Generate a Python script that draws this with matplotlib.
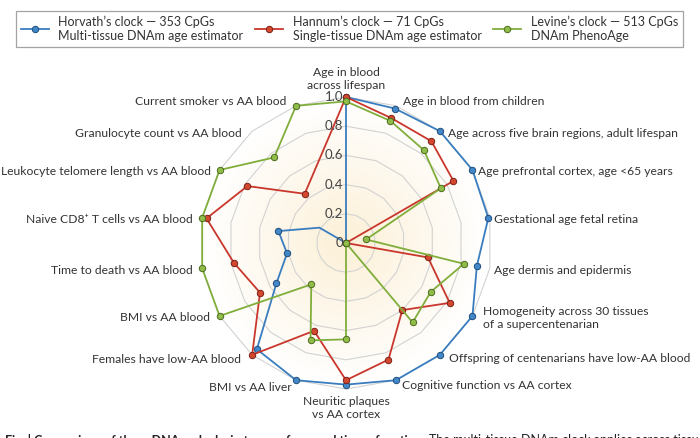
import numpy as np
import matplotlib
matplotlib.use("Agg")
import matplotlib.pyplot as plt
from matplotlib.lines import Line2D
from matplotlib.colors import LinearSegmentedColormap
import matplotlib.transforms as mtransforms

plt.rcParams['font.family'] = ['Lato', 'DejaVu Sans']

categories = [
    "Age in blood\nacross lifespan",
    "Age in blood from children",
    "Age across five brain regions, adult lifespan",
    "Age prefrontal cortex, age <65 years",
    "Gestational age fetal retina",
    "Age dermis and epidermis",
    "Homogeneity across 30 tissues\nof a supercentenarian",
    "Offspring of centenarians have low-AA blood",
    "Cognitive function vs AA cortex",
    "Neuritic plaques\nvs AA cortex",
    "BMI vs AA liver",
    "Females have low-AA blood",
    "BMI vs AA blood",
    "Time to death vs AA blood",
    "Naive CD8\u207a T cells vs AA blood",
    "Leukocyte telomere length vs AA blood",
    "Granulocyte count vs AA blood",
    "Current smoker vs AA blood",
]

horvath = [1.0, 0.98, 1.0, 1.0, 0.99, 0.91, 1.0, 1.0, 1.0, 0.97, 1.0, 0.95, 0.55, 0.41, 0.47, 0.21, 0.0, 0.0]
hannum = [1.0, 0.91, 0.91, 0.85, 0.0, 0.57, 0.82, 0.60, 0.85, 0.94, 0.64, 1.0, 0.68, 0.78, 0.97, 0.78, 0.44, None]
levine = [0.97, 0.89, 0.83, 0.75, 0.14, 0.82, 0.67, 0.71, 0.0, 0.66, 0.71, 0.37, 1.0, 1.0, 1.0, 1.0, 0.765, 1.0]

series_labels = [
    "Horvath\u2019s clock \u2014 353 CpGs\nMulti-tissue DNAm age estimator",
    "Hannum\u2019s clock \u2014 71 CpGs\nSingle-tissue DNAm age estimator",
    "Levine\u2019s clock \u2014 513 CpGs\nDNAm PhenoAge",
]
tick_values = [0, 0.2, 0.4, 0.6, 0.8, 1.0]
tick_labels = ["0", "0.2", "0.4", "0.6", "0.8", "1.0"]

# label nudges in pixels (style only): (right, down)
label_nudge = [(0, -2), (5, 3), (3, 8), (-1, 5), (-3, 3), (-3, 1), (4, -2), (4, -2), (4, -2),
               (0, 0), (-2, 0), (-6, -1), (-3, -2), (-2, 1), (-2, 3), (-2, 5), (-6, 8), (-7, 3)]

line_colors = ['#3a7dbf', '#c9372c', '#80ae3b']
face_colors = ['#4287c8', '#d4472f', '#8fbd48']
edge_colors = ['#1f4d7c', '#7a2016', '#4c6a1e']

fig = plt.figure(figsize=(7, 4.38), dpi=100)
cx, cy, R = 346, 243, 146
ax = fig.add_axes([(cx - R) / 700, (438 - cy - R) / 438, 2 * R / 700, 2 * R / 438], projection='polar')
ax.set_theta_zero_location('N')
ax.set_theta_direction(-1)
ax.set_ylim(0, 1.0)
ax.grid(False)
ax.spines['polar'].set_visible(False)
ax.set_xticks([])
ax.set_yticks([])
ax.patch.set_alpha(0)

n = len(categories)
angles = np.arange(n) * 2 * np.pi / n

# background radial gradient
cmap = LinearSegmentedColormap.from_list('bg', [(0, '#fcf0d7'), (0.45, '#fdf6e9'), (1.0, '#ffffff')])
tg = np.linspace(0, 2 * np.pi, 181)
rg = np.linspace(0, 1.0, 60)
T, Rg = np.meshgrid(tg, rg)
ax.pcolormesh(T, Rg, Rg[:-1, :-1], cmap=cmap, shading='flat', zorder=0)

# polygon grid
closed = np.append(angles, angles[0])
for lvl in tick_values[1:]:
    ax.plot(closed, [lvl] * (n + 1), color='#d2d2d2', lw=0.8, zorder=1, clip_on=False)

# radial tick labels
off = mtransforms.offset_copy(ax.transData, fig=fig, x=-3, y=0, units='dots')
for v, t in zip(tick_values, tick_labels):
    ax.text(0, v, t, transform=off, ha='right', va='center', fontsize=9.5, color='#444444', zorder=6)

# data
handles = []
for vals, lc, fc, ec in zip([horvath, hannum, levine], line_colors, face_colors, edge_colors):
    th = [a for a, v in zip(angles, vals) if v is not None]
    rv = [v for v in vals if v is not None]
    th = th + [th[0]]
    rv = rv + [rv[0]]
    mk = list(range(len(rv) - 1))
    if vals is horvath:
        mk = [i for i in mk if i != 15]
    ax.plot(th, rv, color=lc, lw=1.3, marker='o', ms=4.6, mfc=fc, mec=ec, mew=0.7,
            markevery=mk, clip_on=False, zorder=3)
    handles.append(Line2D([], [], color=lc, lw=1.3, marker='o', ms=4.6, mfc=fc, mec=ec, mew=0.7))

# category labels
fs = 8.7
for a, lab, (ndx, ndy) in zip(angles, categories, label_nudge):
    deg = np.degrees(a)
    tr = mtransforms.offset_copy(ax.transData, fig=fig, x=ndx, y=-ndy, units='dots')
    kw = dict(fontsize=fs, color='#333333', linespacing=1.2, transform=tr)
    if np.isclose(deg, 0):
        ax.text(a, 1.03, lab, ha='center', va='bottom', **kw)
    elif np.isclose(deg, 180):
        ax.text(a, 1.05, lab, ha='center', va='top', **kw)
    elif deg < 180:
        ax.text(a, 1.05, lab, ha='left', va='center', **kw)
    else:
        ax.text(a, 1.05, lab, ha='right', va='center', **kw)

leg = fig.legend(handles, series_labels, loc='lower left', ncol=3, mode='expand',
                 bbox_to_anchor=(16 / 700, 1 - 47 / 438, 667 / 700, 41 / 438),
                 borderaxespad=0, frameon=True, fancybox=False, fontsize=9,
                 handlelength=2.2, handletextpad=0.8, columnspacing=1.0, borderpad=0.4)
leg.get_frame().set_edgecolor('#8c8c8c')
leg.get_frame().set_linewidth(0.9)
for t in leg.get_texts():
    t.set_color('#333333')
    t.set_linespacing(1.2)

cap1 = fig.text(5 / 700, 1 - 434 / 438, "Fig. | Comparison of three DNAm clocks in terms of age and tissue function.",
                ha='left', va='top', fontsize=9, fontweight='bold', color='#222222')
fig.canvas.draw()
bb = cap1.get_window_extent(fig.canvas.get_renderer())
fig.text((bb.x1 + 4) / 700, 1 - 434 / 438, "The multi-tissue DNAm clock applies across tissues and cell types",
         ha='left', va='top', fontsize=9, color='#222222')

fig.savefig('out.png', dpi=100, facecolor='white')
